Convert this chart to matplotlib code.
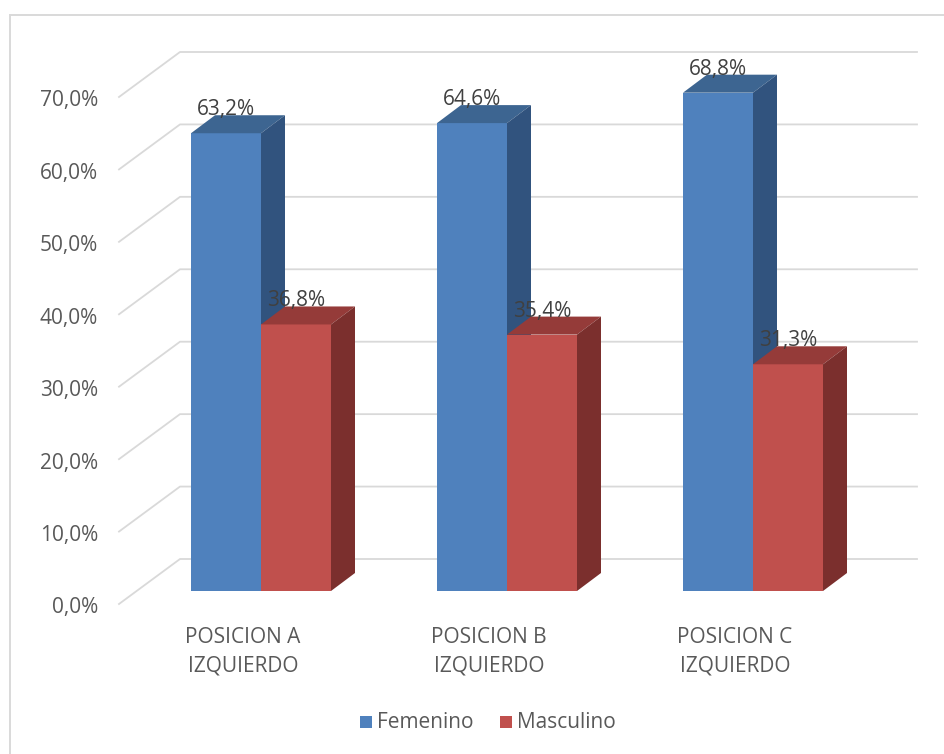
import matplotlib
matplotlib.use("Agg")
import matplotlib.pyplot as plt
from matplotlib.patches import Polygon, Rectangle
from matplotlib.lines import Line2D

# ---- data ----
categories = ["POSICION A\nIZQUIERDO", "POSICION B\nIZQUIERDO", "POSICION C\nIZQUIERDO"]
series_names = ["Femenino", "Masculino"]
femenino = [63.2, 64.6, 68.8]
masculino = [36.8, 35.4, 31.3]
y_ticks = [0, 10, 20, 30, 40, 50, 60, 70]
y_tick_labels = ["0,0%", "10,0%", "20,0%", "30,0%", "40,0%", "50,0%", "60,0%", "70,0%"]

# ---- styling / layout ----
W, H, DPI = 944, 754, 100
FONT = "Open Sans"
FS = 15
TXT = "#595959"
GRID = "#d9d9d9"
face_cols = {
    "Femenino": ("#4f81bd", "#3d6591", "#31537e"),   # front, top, side
    "Masculino": ("#c0504d", "#953b39", "#7b2f2d"),
}

# pixel geometry of the 3-D box (x in pixels, y in percent units)
PX_PER_PCT = 7.243          # vertical pixels per percentage point
BACK_ZERO_PX = 559          # pixel row of 0 % on the back wall
def pct(px_row):
    return (BACK_ZERO_PX - px_row) / PX_PER_PCT

WALL_X0, WALL_X1 = 180, 917         # back wall extent
FLOOR_DX = -61                      # oblique offset to the front edge
FLOOR_DY = -45 / PX_PER_PCT
BAR_BASE = pct(591)                 # front-face bottom of the bars
BAR_X0, CAT_STEP, BAR_W = 191, 246, 70
DEPTH_DX, DEPTH_DY = 24, 18 / PX_PER_PCT

fig = plt.figure(figsize=(W / DPI, H / DPI), dpi=DPI)
ax = fig.add_axes([0, 0, 1, 1])
ax.set_xlim(0, W)
ax.set_ylim(pct(H), pct(0))
ax.axis("off")

# outer chart frame
ax.add_patch(Rectangle((10, pct(H + 10)), W + 20, pct(15) - pct(H + 10),
                       fill=False, edgecolor=GRID, lw=1.4, zorder=0))

# gridlines on back wall plus the oblique side-wall segment
for t, lab in zip(y_ticks, y_tick_labels):
    ax.add_line(Line2D([WALL_X0 + FLOOR_DX, WALL_X0, WALL_X1],
                       [t + FLOOR_DY, t, t], color=GRID, lw=1.3, zorder=1))
    ax.text(98, t + FLOOR_DY - 0.55, lab, ha="right", va="center",
            fontsize=FS, color=TXT, family=FONT)

def draw_bar(x0, val, name):
    front, top, side = face_cols[name]
    y0, y1 = BAR_BASE, BAR_BASE + val
    x1 = x0 + BAR_W
    ax.add_patch(Polygon([(x0, y0), (x1, y0), (x1, y1), (x0, y1)],
                         closed=True, facecolor=front, edgecolor="none", zorder=3))
    ax.add_patch(Polygon([(x0, y1), (x1, y1), (x1 + DEPTH_DX, y1 + DEPTH_DY),
                          (x0 + DEPTH_DX, y1 + DEPTH_DY)],
                         closed=True, facecolor=top, edgecolor="none", zorder=3))
    ax.add_patch(Polygon([(x1, y0), (x1 + DEPTH_DX, y0 + DEPTH_DY),
                          (x1 + DEPTH_DX, y1 + DEPTH_DY), (x1, y1)],
                         closed=True, facecolor=side, edgecolor="none", zorder=3))
    lbl = f"{val:.1f}%".replace(".", ",")
    ax.text((x0 + x1) / 2, y1 + DEPTH_DY, lbl, ha="center", va="baseline",
            fontsize=FS, color="#404040", family=FONT, zorder=5)

for i, cat in enumerate(categories):
    bx = BAR_X0 + i * CAT_STEP
    draw_bar(bx, femenino[i], "Femenino")
    draw_bar(bx + BAR_W, masculino[i], "Masculino")
    ax.text(bx + 52, pct(652), cat, ha="center", va="center",
            fontsize=FS, color=TXT, family=FONT, linespacing=1.45)

# legend
leg_y = pct(722)
for name, sx in zip(series_names, [360, 500]):
    ax.add_patch(Rectangle((sx, leg_y - 6 / PX_PER_PCT), 12, 12 / PX_PER_PCT,
                           facecolor=face_cols[name][0], edgecolor="none"))
    ax.text(sx + 17, leg_y, name, ha="left", va="center",
            fontsize=FS, color=TXT, family=FONT)

fig.savefig("out.png", dpi=DPI, facecolor="white")
